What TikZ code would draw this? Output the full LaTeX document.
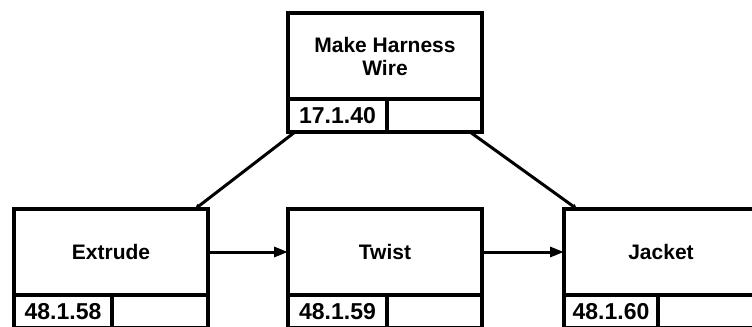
\documentclass[tikz,border=0pt]{standalone}
\usepackage{fontspec}
\setmainfont{Liberation Sans}
\usetikzlibrary{arrows.meta,positioning}

\begin{document}
\begin{tikzpicture}[x=0.5pt, y=-0.5pt,
  >={Triangle[length=7pt, width=5pt]},
  proc/.style={draw=black, line width=1.7pt, outer sep=0pt, minimum width=97pt, minimum height=43pt, align=center, inner sep=2pt, font=\bfseries\fontsize{10.5}{11.5}\selectfont},
  cell/.style={draw=black, line width=1.7pt, outer sep=0pt, minimum height=16.5pt, inner sep=0pt, font=\bfseries\fontsize{11.5}{13}\selectfont},
  flow/.style={->, draw=black, line width=1.5pt},
  link/.style={-{Triangle[length=2.5pt, width=2.5pt]}, draw=black, line width=1.5pt}]
\useasboundingbox (0,0) rectangle (752,327);
% upper process
\node[proc] (harness) at (385,56) {Make Harness\\Wire};
\node[cell, minimum width=49.5pt, below right=0pt of harness.south west] (harness-no) {17.1.40};
\node[cell, minimum width=47.5pt, right=0pt of harness-no] (harness-x) {};
% process row
\node[proc] (twist) at (385,252) {Twist};
\node[proc, left=40pt of twist] (extrude) {Extrude};
\node[proc, right=41pt of twist] (jacket) {Jacket};
\node[cell, minimum width=49pt, below right=0pt of extrude.south west] (extrude-no) {48.1.58};
\node[cell, minimum width=48pt, right=0pt of extrude-no] (extrude-x) {};
\node[cell, minimum width=49.5pt, below right=0pt of twist.south west] (twist-no) {48.1.59};
\node[cell, minimum width=47.5pt, right=0pt of twist-no] (twist-x) {};
\node[cell, minimum width=47pt, below right=0pt of jacket.south west] (jacket-no) {48.1.60};
\node[cell, minimum width=50pt, right=0pt of jacket-no] (jacket-x) {};
% connectors
\draw[flow] (extrude) -- (twist);
\draw[flow] (twist) -- (jacket);
\draw[link] ([xshift=3.5pt]harness-no.south west) -- ([xshift=-6.5pt]extrude.north east);
\draw[link] ([xshift=-6pt]harness-x.south east) -- ([xshift=6.5pt]jacket.north west);
\end{tikzpicture}
\end{document}
